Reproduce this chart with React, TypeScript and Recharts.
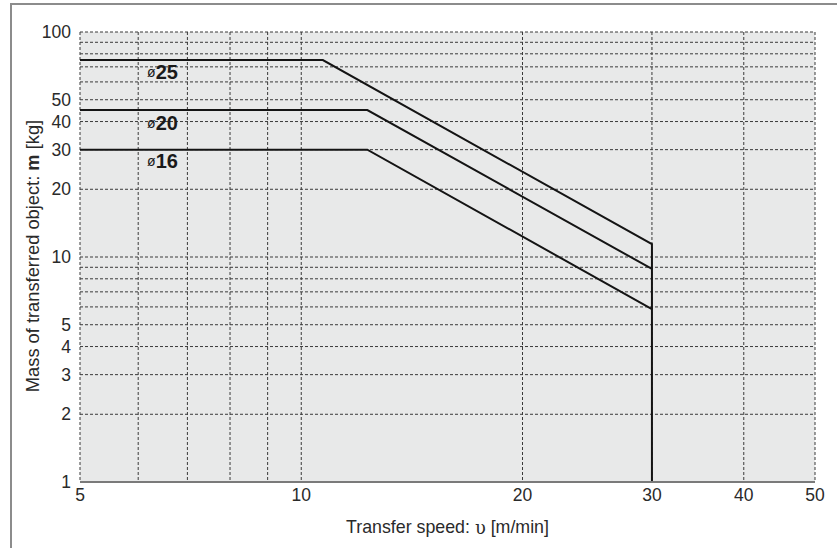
import React from "react";
import {
  LineChart,
  Line,
  XAxis,
  YAxis,
  CartesianGrid,
  ReferenceDot,
} from "recharts";

// ---- data ----
const xTicks = [5, 10, 20, 30, 40, 50];
const yTicks = [1, 2, 3, 4, 5, 10, 20, 30, 40, 50, 100];
const xGrid = [5, 6, 7, 8, 9, 10, 20, 30, 40, 50];
const yGrid = [1, 2, 3, 4, 5, 6, 7, 8, 9, 10, 20, 30, 40, 50, 60, 70, 80, 90, 100];

const speed25 = [5, 10.7, 30, 30];
const mass25 = [75, 75, 11.4, 1];
const speed20 = [5, 12.3, 30];
const mass20 = [45, 45, 8.85];
const speed16 = [5, 12.3, 30];
const mass16 = [30, 30, 5.87];

const seriesNames = ["25", "20", "16"];
const labelSpeed = [6.17, 6.17, 6.17];
const labelMass = [66.4, 39.4, 26.7];

const toRows = (xs: number[], ys: number[]) => xs.map((v, i) => ({ v, m: ys[i] }));
const series = [
  toRows(speed25, mass25),
  toRows(speed20, mass20),
  toRows(speed16, mass16),
];

const FONT = "'Liberation Sans', Arial, Helvetica, sans-serif";
const TXT = "#2a2a2a";

const YLabel = (props: any) => {
  const { y, height } = props.viewBox;
  const cx = 32;
  const cy = y + height / 2 - 1;
  return (
    <text
      x={cx}
      y={cy}
      transform={`rotate(-90 ${cx} ${cy})`}
      textAnchor="middle"
      dominantBaseline="central"
      fontSize={18.3}
      fill={TXT}
      fontFamily={FONT}
    >
      Mass of transferred object: <tspan fontWeight="bold">m</tspan> [kg]
    </text>
  );
};

const XLabel = (props: any) => {
  const { x, width } = props.viewBox;
  return (
    <text
      x={x + width / 2}
      y={527}
      textAnchor="middle"
      dominantBaseline="central"
      fontSize={17.8}
      fill={TXT}
      fontFamily={FONT}
    >
      Transfer speed: <tspan fontFamily="'DejaVu Serif', serif">υ</tspan> [m/min]
    </text>
  );
};

const makeTag = (name: string) => (p: any) => (
  <text x={p.cx} y={p.cy} dominantBaseline="central" fill="#1a1a1a" fontFamily={FONT}>
    <tspan fontSize={14}>ø</tspan>
    <tspan fontSize={20} fontWeight="bold">{name}</tspan>
  </text>
);

export default function App() {
  return (
    <div style={{ position: "absolute", left: 0, top: 0, width: 837, height: 548, background: "#fff" }}>
      <div
        style={{
          position: "absolute",
          left: 10,
          top: 3,
          width: 827,
          height: 545,
          borderTop: "2px solid #8c8c8c",
          borderLeft: "2px solid #8c8c8c",
          boxSizing: "border-box",
        }}
      />
      <div style={{ position: "absolute", left: 0, top: 0 }}>
        <LineChart width={837} height={548} margin={{ top: 32, right: 22, bottom: 36, left: 20 }}>
          <CartesianGrid
            fill="#e8e9e9"
            fillOpacity={1}
            stroke="#3a3a3a"
            strokeDasharray="3 2"
            strokeWidth={1}
            verticalValues={xGrid}
            horizontalValues={yGrid}
          />
          <XAxis
            dataKey="v"
            type="number"
            scale="log"
            domain={[5, 50]}
            ticks={xTicks}
            interval={0}
            allowDataOverflow
            height={30}
            tickSize={0}
            tickMargin={7}
            tickLine={false}
            axisLine={{ stroke: "#7a7a7a", strokeWidth: 2 }}
            tick={{ fontSize: 17.5, fill: TXT, fontFamily: FONT }}
            label={<XLabel />}
          />
          <YAxis
            dataKey="m"
            type="number"
            scale="log"
            domain={[1, 100]}
            ticks={yTicks}
            interval={0}
            allowDataOverflow
            width={60}
            tickSize={0}
            tickMargin={9}
            tickLine={false}
            axisLine={false}
            tick={{ fontSize: 17.5, fill: TXT, fontFamily: FONT }}
            label={<YLabel />}
          />
          {series.map((d, i) => (
            <Line
              key={seriesNames[i]}
              data={d}
              dataKey="m"
              type="linear"
              stroke="#141414"
              strokeWidth={2}
              dot={false}
              isAnimationActive={false}
            />
          ))}
          {seriesNames.map((n, i) => (
            <ReferenceDot
              key={"t" + n}
              x={labelSpeed[i]}
              y={labelMass[i]}
              r={0}
              shape={makeTag(n)}
            />
          ))}
        </LineChart>
      </div>
    </div>
  );
}
